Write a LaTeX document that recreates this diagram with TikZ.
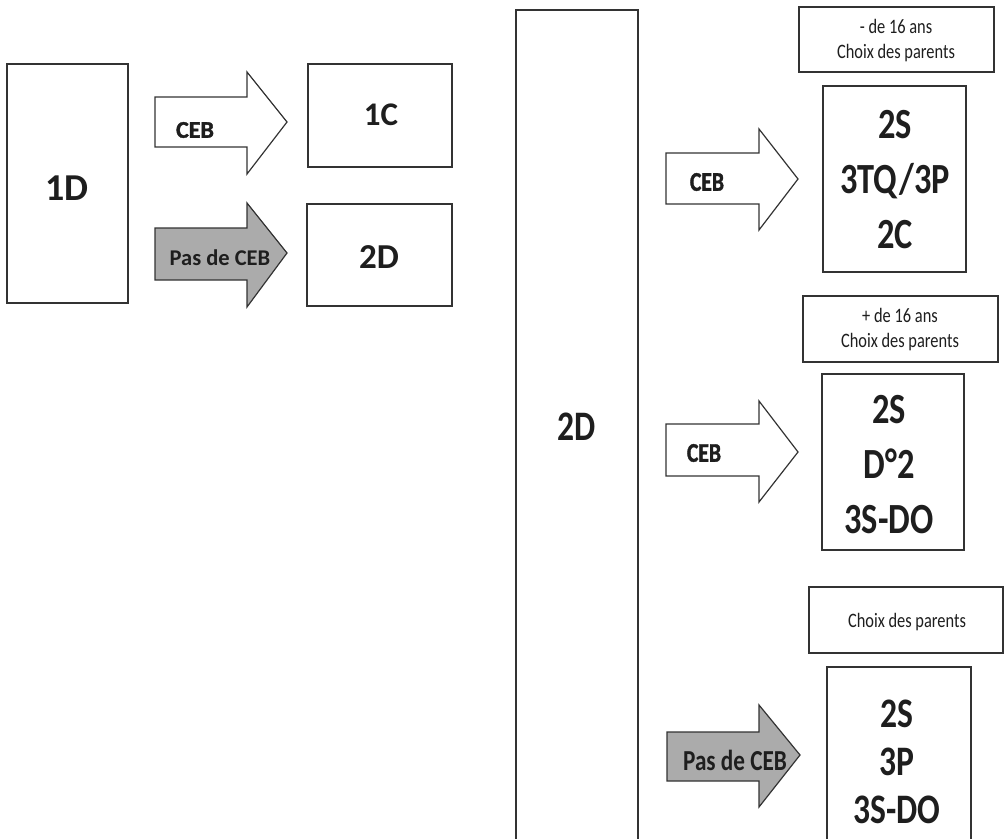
\documentclass[tikz,border=0pt]{standalone}
\usepackage{fontspec}
\setmainfont{Carlito}
\newfontfamily\tallfont{Carlito}[FakeStretch=0.8]
\newfontfamily\heavyfont{Carlito Bold}[FakeBold=1.4]
\newfontfamily\tallheavyfont{Carlito Bold}[FakeBold=1.4,FakeStretch=0.8]
\definecolor{linec}{HTML}{333333}
\definecolor{arrowgray}{HTML}{ABABAB}
\definecolor{textc}{HTML}{1E1E1E}
\begin{document}
\begin{tikzpicture}[x=1pt,y=-1pt,
  box/.style={draw=linec, line width=1.4pt, inner sep=0pt, fill=white},
  blk/.style={draw=linec, line width=1.2pt, line join=miter},
  lbl/.style={inner sep=0pt, text=textc, align=center}]
\useasboundingbox[fill=white] (0,0) rectangle (1008,838);

% ---------- left part ----------
\node[box, minimum width=121pt, minimum height=239pt] (d1) at (67.5,183.5) {};
\node[lbl, font=\bfseries\fontsize{38}{42}\selectfont] (t1d) at (67,188) {1D};

\node[box, minimum width=144pt, minimum height=103pt] (c1) at (380,115.5) {};
\node[lbl, font=\bfseries\fontsize{33}{38}\selectfont] (t1c) at (381,115) {1C};

\node[box, minimum width=145pt, minimum height=102pt] (d2s) at (379.5,255) {};
\node[lbl, font=\bfseries\fontsize{35}{38}\selectfont] (t2ds) at (379,257) {2D};

\draw[blk, fill=white] (155,97) -- (247,97) -- (247,72) -- (287,122) -- (247,174) -- (247,147) -- (155,147) -- cycle;
\node[lbl, font=\heavyfont\fontsize{24}{26}\selectfont] (ceb1) at (195,130) {CEB};

\draw[blk, fill=arrowgray] (155,228) -- (247,228) -- (247,203) -- (287,253) -- (247,307) -- (247,280) -- (155,280) -- cycle;
\node[lbl, font=\bfseries\fontsize{22.5}{26}\selectfont] (pceb1) at (220,258) {Pas de CEB};

% ---------- right part ----------
\draw[linec, line width=1.4pt] (516,840) -- (516,10) -- (638,10) -- (638,840);
\node[lbl, font=\tallfont\bfseries\fontsize{42}{48}\selectfont] (t2db) at (577,427) {2D};

% top group
\node[box, minimum width=195pt, minimum height=65pt] (n1) at (896.5,39.5) {};
\node[lbl, font=\tallfont\fontsize{20.5}{25}\selectfont] (tn1) at (896,41) {- de 16 ans\\Choix des parents};
\node[box, minimum width=143pt, minimum height=186pt] (r1) at (894.5,179) {};
\node[lbl, font=\tallfont\bfseries\fontsize{43}{55}\selectfont] (tr1) at (895,180) {2S\\3TQ/3P\\2C};
\draw[blk, fill=white] (666,153) -- (759,153) -- (759,129) -- (798,179) -- (759,230) -- (759,204) -- (666,204) -- cycle;
\node[lbl, font=\tallheavyfont\fontsize{27}{30}\selectfont] (ceb2) at (707,182) {CEB};

% middle group
\node[box, minimum width=195pt, minimum height=66pt] (n2) at (900.5,329) {};
\node[lbl, font=\tallfont\fontsize{20.5}{25}\selectfont] (tn2) at (900,330) {+ de 16 ans\\Choix des parents};
\node[box, minimum width=142pt, minimum height=176pt] (r2) at (893,462) {};
\node[lbl, font=\tallfont\bfseries\fontsize{43}{55}\selectfont] (tr2) at (889,465) {2S\\D°2\\3S-DO};
\draw[blk, fill=white] (666,424) -- (759,424) -- (759,401) -- (798,452) -- (759,502) -- (759,476) -- (666,476) -- cycle;
\node[lbl, font=\tallheavyfont\fontsize{27}{30}\selectfont] (ceb3) at (704,453) {CEB};

% bottom group
\node[box, minimum width=194pt, minimum height=66pt] (n3) at (906,620) {};
\node[lbl, font=\tallfont\fontsize{20.5}{25}\selectfont] (tn3) at (907,622) {Choix des parents};
\draw[linec, line width=1.4pt] (827,840) -- (827,667) -- (971,667) -- (971,840);
\node[lbl, font=\tallfont\bfseries\fontsize{42}{48}\selectfont] (tr3) at (897,762) {2S\\3P\\3S-DO};
\draw[blk, fill=arrowgray] (667,732) -- (759,732) -- (759,705) -- (800,755) -- (759,807) -- (759,781) -- (667,781) -- cycle;
\node[lbl, font=\tallfont\bfseries\fontsize{29}{32}\selectfont] (pceb2) at (735,760) {Pas de CEB};
\end{tikzpicture}
\end{document}
